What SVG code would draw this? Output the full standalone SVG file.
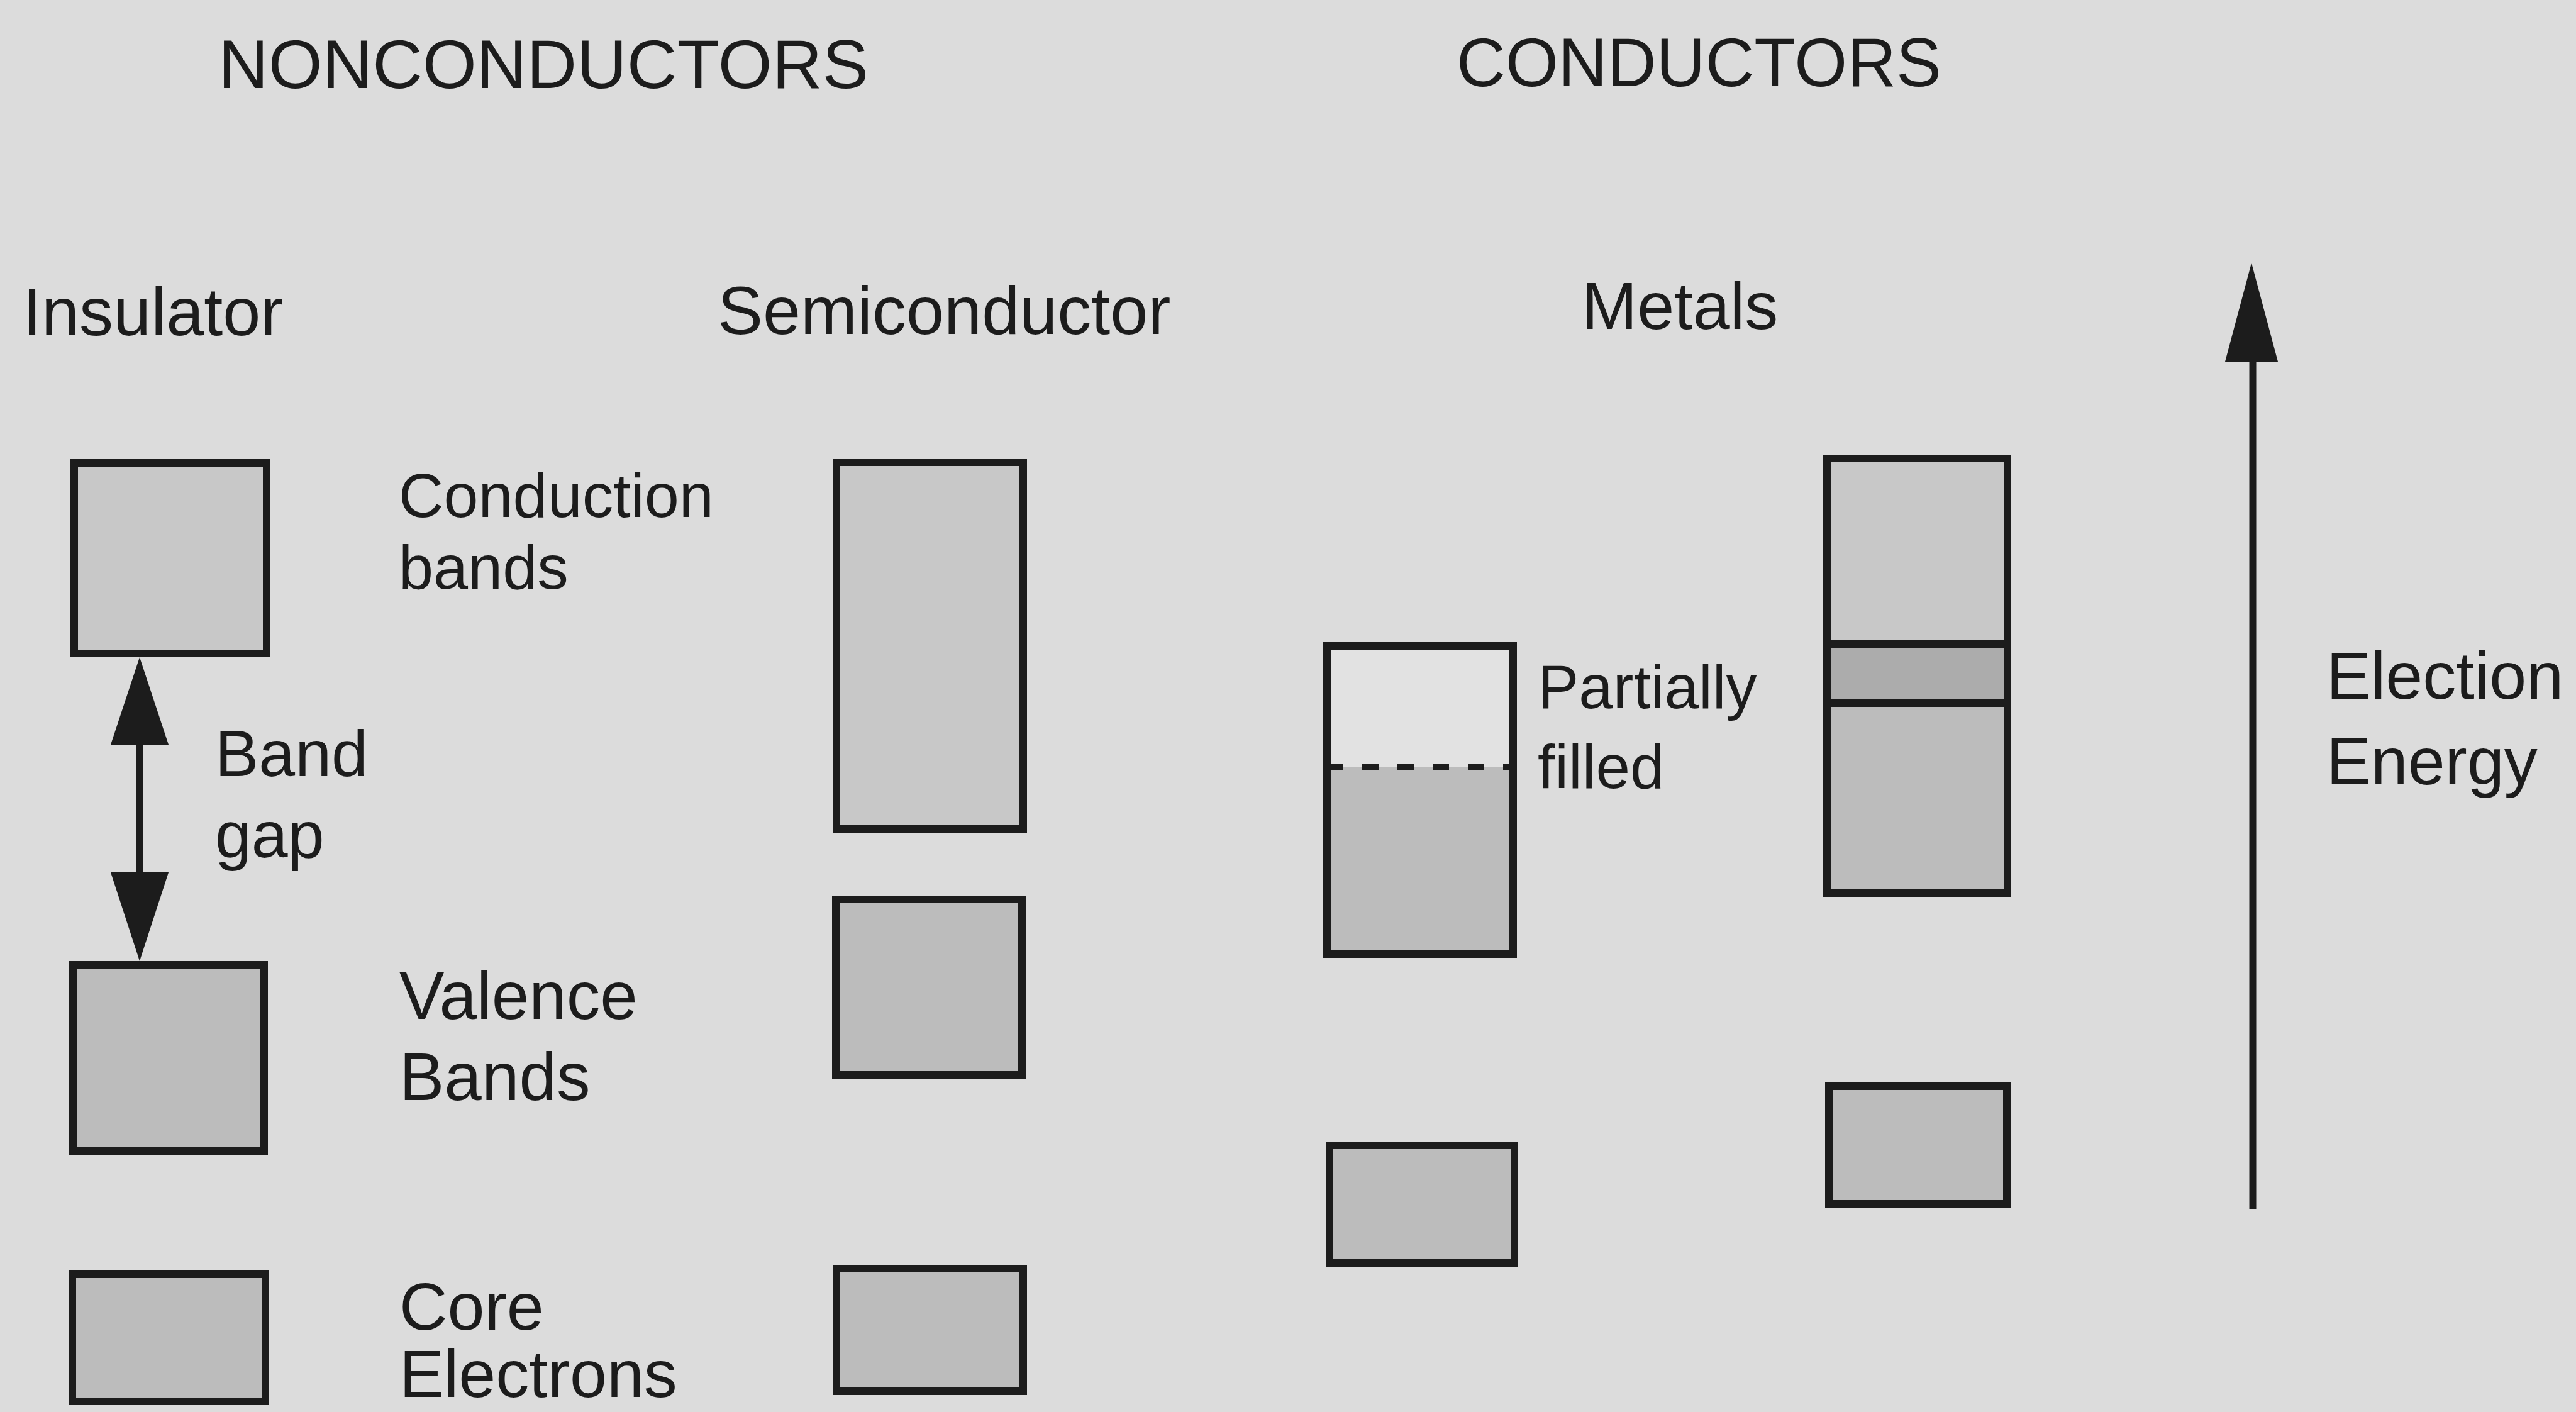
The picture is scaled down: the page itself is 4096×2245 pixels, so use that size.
<svg xmlns="http://www.w3.org/2000/svg" width="4096" height="2245" viewBox="0 0 4096 2245">
<style>
.bg{fill:#dcdcdc}
.band{stroke:#1c1c1c;stroke-width:12}
.cb{fill:#c8c8c8}
.vb{fill:#bcbcbc}
.dk{fill:#acacac}
.empty{fill:#e2e2e2}
.div{stroke:#1c1c1c;stroke-width:12}
.dash{stroke:#1c1c1c;stroke-width:10;stroke-dasharray:26 30}
.ln{stroke:#1c1c1c;stroke-width:11;fill:none}
.head{fill:#1c1c1c}
text{font-family:"Liberation Sans",Arial,Helvetica,sans-serif;fill:#1c1c1c}
.title{font-size:110px}
.hdr{font-size:108px}
.lbl{font-size:102px}
</style>
<rect class="bg" x="0" y="0" width="4096" height="2245"/>
<g id="titles">
<text class="title" x="347" y="140" textLength="1034" lengthAdjust="spacingAndGlyphs">NONCONDUCTORS</text>
<text class="title" x="2316" y="137" textLength="771" lengthAdjust="spacingAndGlyphs">CONDUCTORS</text>
<text class="hdr" x="36" y="533">Insulator</text>
<text class="hdr" x="1141" y="531">Semiconductor</text>
<text class="hdr" x="2515" y="523" style="font-size:106px">Metals</text>
</g>
<g id="insulator">
<g id="ins-conduction"><rect class="band cb" x="118" y="736" width="306" height="303"/></g>
<g id="ins-valence"><rect class="band vb" x="116" y="1534" width="304" height="296"/></g>
<g id="ins-core"><rect class="band vb" x="115" y="2026" width="307" height="202"/></g>
</g>
<g id="labels">
<text class="lbl" x="634" y="822" style="font-size:99px">Conduction</text>
<text class="lbl" x="634" y="936" style="font-size:99px">bands</text>
<text class="lbl" x="342" y="1234" style="font-size:104px">Band</text>
<text class="lbl" x="342" y="1363" style="font-size:104px">gap</text>
<text class="lbl" x="635" y="1620" style="font-size:107px">Valence</text>
<text class="lbl" x="635" y="1749" style="font-size:107px">Bands</text>
<text class="lbl" x="635" y="2114" style="font-size:106px">Core</text>
<text class="lbl" x="635" y="2221" style="font-size:106px">Electrons</text>
</g>
<g id="semiconductor">
<g id="semi-conduction"><rect class="band cb" x="1330" y="735" width="297" height="583"/></g>
<g id="semi-valence"><rect class="band vb" x="1329" y="1430" width="296" height="279"/></g>
<g id="semi-core"><rect class="band vb" x="1330" y="2017" width="297" height="195"/></g>
</g>
<g id="metal1">
<g id="metal1-partial">
<rect class="empty" x="2110" y="1027" width="296" height="193"/>
<rect class="vb" x="2110" y="1220" width="296" height="297"/>
<line class="dash" x1="2110" y1="1220" x2="2406" y2="1220"/>
<rect x="2110" y="1027" width="296" height="490" fill="none" class="band"/>
<text class="lbl" x="2445" y="1126" style="font-size:98px">Partially</text>
<text class="lbl" x="2445" y="1253" style="font-size:98px">filled</text>
</g>
<g id="metal1-core"><rect class="band vb" x="2114" y="1821" width="294" height="187"/></g>
</g>
<g id="metal2">
<g id="metal2-overlap">
<rect class="cb" x="2905" y="729" width="287" height="295"/>
<rect class="dk" x="2905" y="1024" width="287" height="94"/>
<rect class="vb" x="2905" y="1118" width="287" height="302"/>
<line class="div" x1="2905" y1="1024" x2="3192" y2="1024"/>
<line class="div" x1="2905" y1="1118" x2="3192" y2="1118"/>
<rect x="2905" y="729" width="287" height="691" fill="none" class="band"/>
</g>
<g id="metal2-core"><rect class="band vb" x="2908" y="1727" width="283" height="187"/></g>
</g>
<g id="connectors">
<g id="bandgap-arrow">
<line class="ln" x1="222" y1="1175" x2="222" y2="1395"/>
<polygon class="head" points="222,1045 176,1184 268,1184"/>
<polygon class="head" points="222,1528 176,1387 268,1387"/>
</g>
<g id="energy-arrow">
<line class="ln" x1="3582" y1="565" x2="3582" y2="1922"/>
<polygon class="head" points="3580,418 3538,575 3622,575"/>
</g>
</g>
<g id="energy-label">
<text class="lbl" x="3699" y="1111" style="font-size:106px">Election</text>
<text class="lbl" x="3699" y="1247" style="font-size:106px">Energy</text>
</g>
</svg>
